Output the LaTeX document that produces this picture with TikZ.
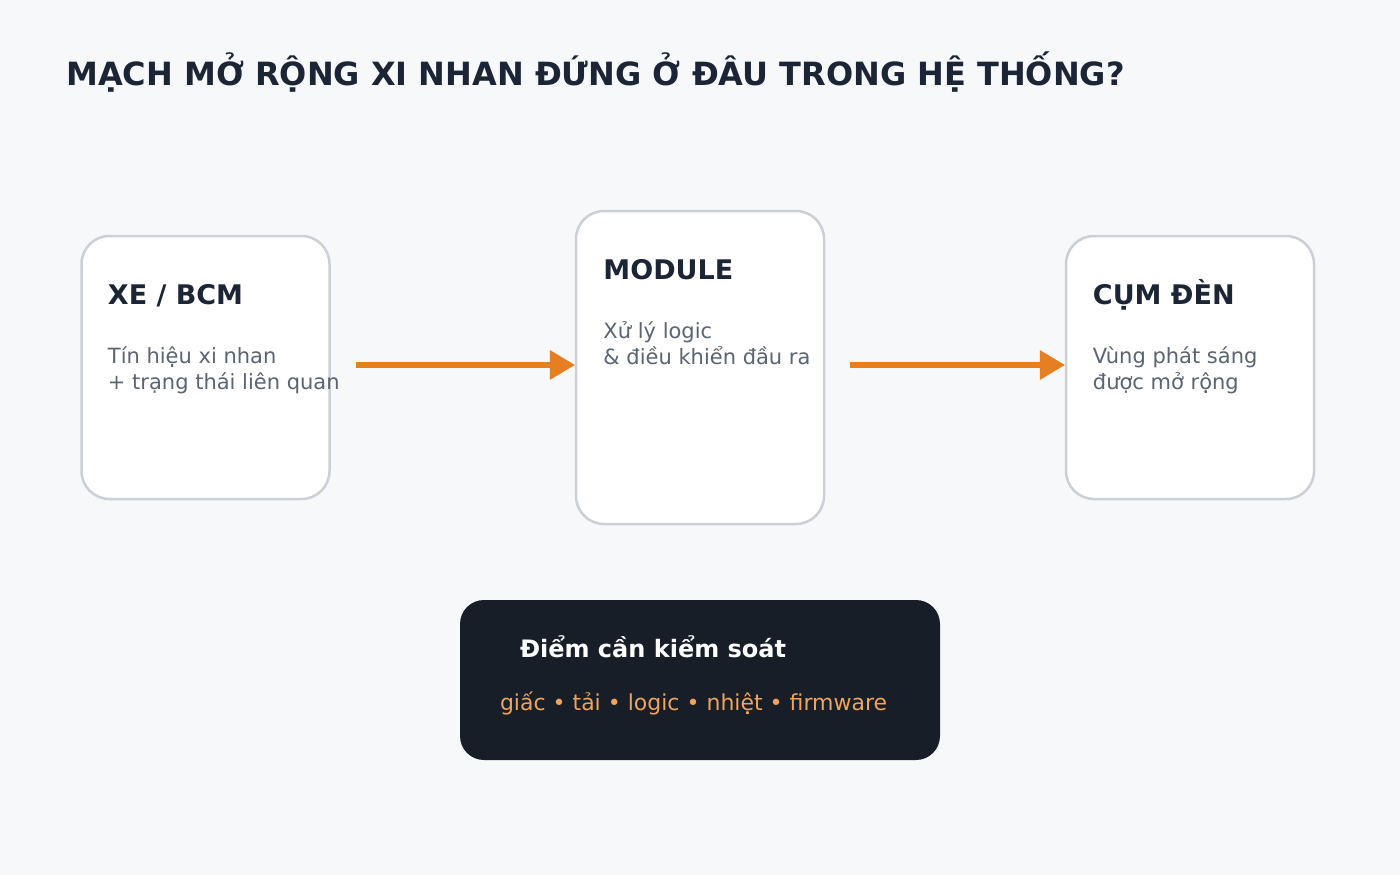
\documentclass[tikz,border=0pt]{standalone}
\usepackage{fontspec}
\setmainfont{DejaVu Sans}
\usepackage{xcolor}
\usetikzlibrary{arrows.meta, positioning, calc}

\definecolor{bgpage}{HTML}{F6F8FA}
\definecolor{inkdark}{HTML}{1C2535}
\definecolor{inkgray}{HTML}{5B6472}
\definecolor{boxline}{HTML}{CBD0D6}
\definecolor{flowor}{HTML}{E67E22}
\definecolor{panel}{HTML}{171E28}
\definecolor{panelor}{HTML}{F0A35A}

\begin{document}
\begin{tikzpicture}[x=1pt, y=-1pt,
        stage/.style={draw=boxline, line width=2.5pt, fill=white, rounded corners=28pt, minimum width=248pt, inner sep=0pt},
        head/.style={anchor=base west, inner sep=0pt, text=inkdark, font=\bfseries\fontsize{27}{32}\selectfont},
        desc/.style={anchor=base west, inner sep=0pt, text=inkgray, font=\fontsize{21}{26}\selectfont},
        flow/.style={flowor, line width=6pt, -{Triangle[length=25pt, width=30pt, line width=0pt]}}]

        \fill[bgpage] (0,0) rectangle (1400,875);
        \useasboundingbox (0,0) rectangle (1400,875);

        \node[anchor=base west, inner sep=0pt, text=inkdark, font=\bfseries\fontsize{32}{38}\selectfont] (title) at (66,85) {MẠCH MỞ RỘNG XI NHAN ĐỨNG Ở ĐÂU TRONG HỆ THỐNG?};

        % Three stages
        \node[stage, minimum height=263pt] (xe) at (205.5,367.5) {};
        \node[stage, minimum height=313pt] (module) at (700,367.5) {};
        \node[stage, minimum height=263pt] (cum) at (1190,367.5) {};

        \node[head] (xet) at ([xshift=27.5pt, yshift=-70pt]xe.north west) {XE / BCM};
        \node[desc] (xed1) at ([yshift=-59pt]xet.base west) {Tín hiệu xi nhan};
        \node[desc] (xed2) at ([yshift=-26pt]xed1.base west) {+ trạng thái liên quan};

        \node[head] (modulet) at ([xshift=28.5pt, yshift=-70pt]module.north west) {MODULE};
        \node[desc] (moduled1) at ([yshift=-59pt]modulet.base west) {Xử lý logic};
        \node[desc] (moduled2) at ([yshift=-26pt]moduled1.base west) {\& điều khiển đầu ra};

        \node[head] (cumt) at ([xshift=28pt, yshift=-70pt]cum.north west) {CỤM ĐÈN};
        \node[desc] (cumd1) at ([yshift=-59pt]cumt.base west) {Vùng phát sáng};
        \node[desc] (cumd2) at ([yshift=-26pt]cumd1.base west) {được mở rộng};

        % Signal flow
        \draw[flow] ([xshift=25pt, yshift=2.5pt]xe.east) -- ([yshift=2.5pt]module.west);
        \draw[flow] ([xshift=25pt, yshift=2.5pt]module.east) -- ([yshift=2.5pt]cum.west);

        % Check points
        \node[fill=panel, rounded corners=24pt, minimum width=480pt, minimum height=160pt, inner sep=0pt] (check) at (700,680) {};
        \node[anchor=base west, inner sep=0pt, text=white, font=\bfseries\fontsize{24}{28}\selectfont] (checkt) at ([xshift=60pt, yshift=-58pt]check.north west) {Điểm cần kiểm soát};
        \node[anchor=base west, inner sep=0pt, text=panelor, font=\fontsize{22}{26}\selectfont] (checkd) at ([xshift=40pt, yshift=-111pt]check.north west) {giấc • tải • logic • nhiệt • firmware};

\end{tikzpicture}
\end{document}
